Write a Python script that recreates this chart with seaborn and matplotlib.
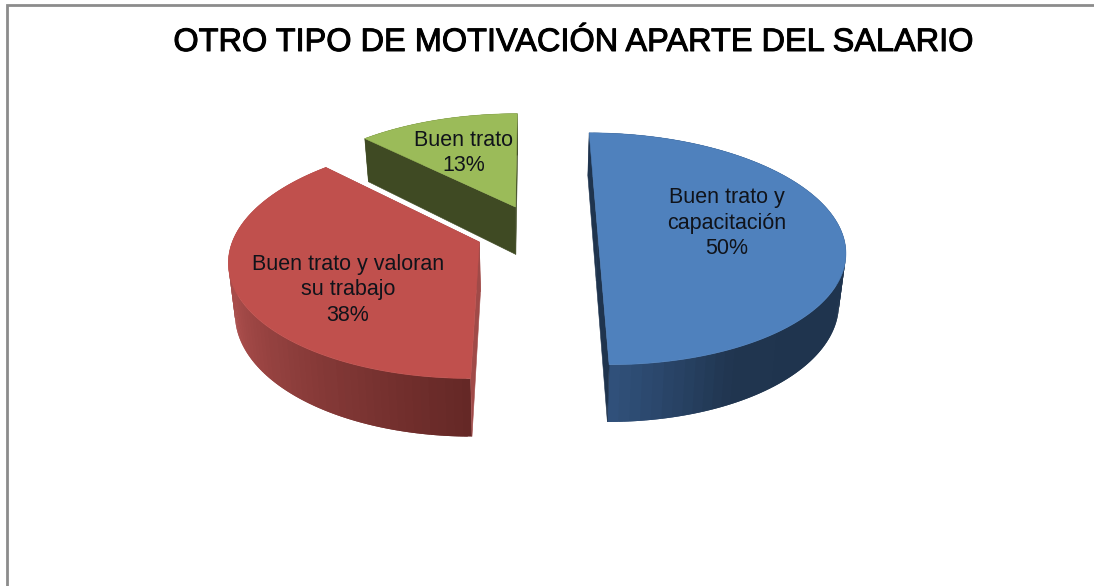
import numpy as np
import matplotlib
matplotlib.use("Agg")
import matplotlib.pyplot as plt
import matplotlib.patheffects as pe
import seaborn as sns

title = "OTRO TIPO DE MOTIVACIÓN APARTE DEL SALARIO"
categories = ["Buen trato y\ncapacitación", "Buen trato y valoran\nsu trabajo", "Buen trato"]
shares = [50, 37.5, 12.5]
share_labels = ["50%", "38%", "13%"]

sns.set_theme(style="white")
plt.rcParams["font.family"] = ["Liberation Sans", "DejaVu Sans"]

top_colors = ["#4f81bd", "#c0504d", "#9bbb59"]
rim_colors = [
    sns.blend_palette(["#1f344e"] * 6 + ["#20354f", "#30507a"], 80),
    sns.blend_palette(["#652826", "#a84c4a", "#a84c4a"], 80),
    sns.blend_palette(["#3f4a23", "#3f4a23"], 80),
]
face_colors = ["#1f344e", "#a04a48", "#3f4a23"]

# perspective of the 3d pie, in picture pixels
vanish_x, vanish_y = 530, -553
height0 = 785
radius_x = 244
tilt = 0.1446
depth = 49
lean = 0.022
# where each exploded slice sits on the ground plane
slice_x = [67.7, -50.0, -15.0]
slice_y = [0.0, -0.0874, 0.2275]
label_xy = [(727, 223), (348, 290), (464, 153)]


def project(x, y):
    g = 1 / (1 + tilt * y)
    return vanish_x + x * g, vanish_y + height0 * g, g


def lower(sx, sy, g):
    return sx + (vanish_x - sx) * lean, sy + depth * g


fig = plt.figure(figsize=(10.94, 5.86), dpi=100)
ax = fig.add_axes([0, 0, 1, 1])
ax.set_xlim(0, 1094)
ax.set_ylim(586, 0)
ax.axis("off")

ax.plot([6.5, 6.5, 1094], [586, 5, 5], color="#8c8c8c", lw=2, solid_joinstyle="miter")
ax.text(572.5, 43, title, ha="center", va="center", fontsize=23.4, color="#000000",
        path_effects=[pe.withStroke(linewidth=0.7, foreground="#000000")])

starts = np.cumsum([0] + shares[:-1]) / 100 * 2 * np.pi
ends = np.cumsum(shares) / 100 * 2 * np.pi

for i in [2, 1, 0]:
    ts = np.linspace(starts[i], ends[i], 161)
    sx, sy, g = project(slice_x[i] + radius_x * np.sin(ts), slice_y[i] + np.cos(ts))
    lx, ly = lower(sx, sy, g)
    ax_x, ax_y, ax_g = project(slice_x[i], slice_y[i])
    bx, by = lower(ax_x, ax_y, ax_g)

    # outer wall, overlapping quads so it shades along the rim without seams
    for k in range(len(ts) - 1):
        c = rim_colors[i][int(k / (len(ts) - 1) * 80)]
        e = min(k + 2, len(ts) - 1)
        ax.fill([sx[k], sx[e], lx[e], lx[k]], [sy[k], sy[e], ly[e], ly[k]],
                color=c, lw=0, zorder=2 + (2 - i) * 3)

    # the two cut faces
    for k in [0, -1]:
        ax.fill([ax_x, sx[k], lx[k], bx], [ax_y, sy[k], ly[k], by],
                color=face_colors[i], lw=0.4, zorder=3 + (2 - i) * 3)

    # top of the slice
    ax.fill(np.r_[ax_x, sx], np.r_[ax_y, sy], color=top_colors[i], lw=0.4, zorder=4 + (2 - i) * 3)

    ax.text(label_xy[i][0], label_xy[i][1], categories[i] + "\n" + share_labels[i],
            ha="center", va="center", fontsize=15.5, color="#10131a", linespacing=1.26, zorder=20)

fig.savefig("out.png", dpi=100)
